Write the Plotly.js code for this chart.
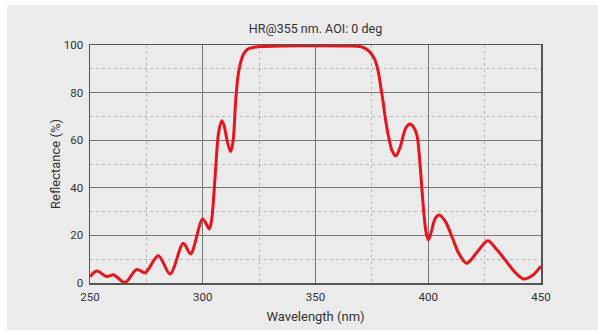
<!DOCTYPE html>
<html>
<head>
<meta charset="utf-8">
<script src="https://cdn.plot.ly/plotly-3.0.1.min.js"></script>
<style>
  html, body { margin: 0; padding: 0; background: #ffffff; }
  #chart { position: absolute; left: 7px; top: 5px; width: 591px; height: 325px; }
</style>
</head>
<body>
<div id="chart"></div>
<script>
const wavelength = [250, 253, 257.4, 260.6, 265.5, 270.7, 274.4, 280.3, 285.5, 291.4, 294.6, 300, 302.9, 304, 305, 306, 307, 308.4, 309.5, 311, 312.4, 313.5, 314.5, 315.5, 316.5, 318, 320, 323, 328, 335, 350, 365, 370, 373, 375, 376.5, 378, 379, 380, 381, 382.3, 384, 385.6, 387.5, 390, 391.9, 393.5, 395, 396, 397, 398, 399, 400.1, 401.5, 403, 404.8, 407.5, 410.9, 413.5, 417, 421.7, 426.4, 430, 434.3, 438.5, 442.2, 446, 450];
const reflectance = [2.6, 5, 2.7, 3.4, 0.2, 5.7, 4.3, 11.5, 3.8, 16.7, 12.2, 26.9, 22.7, 27, 38, 52, 63, 68.2, 66, 59, 55.2, 60, 75, 86, 91.5, 96, 98.3, 99.1, 99.4, 99.6, 99.7, 99.6, 99.3, 98, 96, 93.5, 88, 82, 76, 69, 62, 55.5, 53.4, 57, 65, 66.8, 65.5, 62, 54, 42, 30, 21.5, 18.1, 22, 27, 28.6, 26, 18.5, 12.5, 8.3, 13, 17.8, 14.5, 9.5, 4.5, 1.7, 3, 7.1];
const xTicks = [250, 300, 350, 400, 450];
const yTicks = [0, 20, 40, 60, 80, 100];

const font = "Roboto, 'DejaVu Sans', sans-serif";
const trace = {
  x: wavelength, y: reflectance, type: 'scatter', mode: 'lines',
  line: { color: '#e8141c', width: 3, shape: 'spline', smoothing: 0.9 },
  hoverinfo: 'skip'
};
const layout = {
  width: 591, height: 325,
  margin: { l: 83, r: 57, t: 40, b: 47 },
  paper_bgcolor: '#ebebeb', plot_bgcolor: '#ebebeb',
  showlegend: false,
  font: { family: font, color: '#333', size: 11 },
  title: { text: 'HR@355 nm. AOI: 0 deg', font: { family: font, size: 12.5, color: '#333' },
           x: 0.5, xref: 'paper', xanchor: 'center', y: 0.926, yanchor: 'middle' },
  xaxis: {
    range: [250, 450], tickvals: xTicks, ticktext: xTicks.map(String),
    showline: true, mirror: true, linecolor: '#555', linewidth: 1.5,
    showgrid: true, gridcolor: '#777', gridwidth: 1, zeroline: false,
    ticks: '', tickfont: { size: 11.5, color: '#333' }, ticklabelstandoff: 3,
    minor: { dtick: 25, tick0: 250, showgrid: true, gridcolor: '#b8b8b8', griddash: 'dot', gridwidth: 1 },
    title: { text: 'Wavelength (nm)', font: { size: 13, color: '#333' }, standoff: 8 }
  },
  yaxis: {
    range: [0, 100], tickvals: yTicks, ticktext: yTicks.map(String),
    showline: true, mirror: true, linecolor: '#555', linewidth: 1.5,
    showgrid: true, gridcolor: '#777', gridwidth: 1, zeroline: false,
    ticks: '', tickfont: { size: 11.5, color: '#333' }, ticklabelstandoff: 3,
    minor: { dtick: 10, tick0: 0, showgrid: true, gridcolor: '#b8b8b8', griddash: 'dot', gridwidth: 1 },
    title: { text: 'Reflectance (%)', font: { size: 13, color: '#333' }, standoff: 0 }
  }
};
Plotly.newPlot('chart', [trace], layout, { displayModeBar: false, staticPlot: true });
</script>
</body>
</html>
